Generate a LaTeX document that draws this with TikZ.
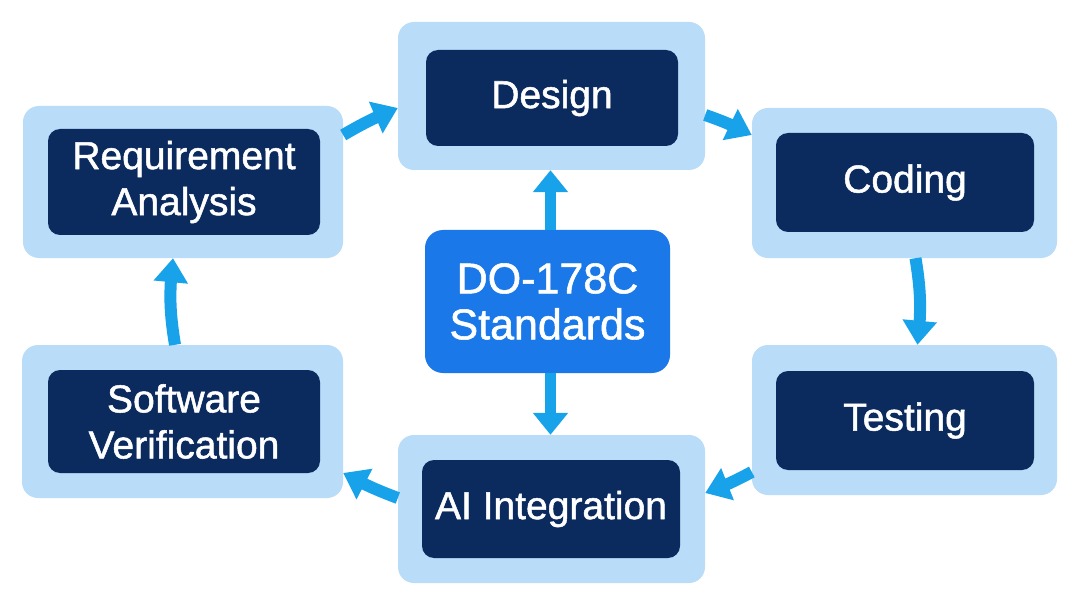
\documentclass[tikz,border=0pt]{standalone}
\usepackage{fontspec}
\setmainfont{Liberation Sans}[FakeBold=1.3]
\usetikzlibrary{arrows.meta,bending}
\definecolor{outerc}{HTML}{B9DCF9}
\definecolor{innerc}{HTML}{0B2A5E}
\definecolor{centerc}{HTML}{1A78E8}
\definecolor{arrc}{HTML}{17A2EA}
\begin{document}
\begin{tikzpicture}[x=1pt,y=-1pt,
  outerbox/.style={fill=outerc,rounded corners=16pt,inner sep=0pt,minimum width=#1},
  innerbox/.style={fill=innerc,rounded corners=12pt,inner sep=0pt,text=white,align=center,
    font=\fontsize{39}{46}\selectfont},
  centerbox/.style={fill=centerc,rounded corners=18pt,inner sep=0pt,text=white,align=center,
    font=\fontsize{43}{46}\selectfont},
  flow/.style={draw=arrc,line width=12pt,-{Triangle[length=24pt,width=33pt,flex]}},
  sflow/.style={draw=arrc,line width=11pt,-{Triangle[length=22pt,width=34pt]}}
]
\useasboundingbox[fill=white] (0,0) rectangle (1080,607);
% outer boxes
\node[outerbox=307pt,minimum height=148pt] (design) at (551.5,96) {};
\node[outerbox=305pt,minimum height=150pt] (coding) at (904.5,183) {};
\node[outerbox=320pt,minimum height=152pt] (ra) at (183,182) {};
\node[outerbox=321pt,minimum height=153pt] (sv) at (182.5,421.5) {};
\node[outerbox=305pt,minimum height=150pt] (testing) at (904.5,420) {};
\node[outerbox=307pt,minimum height=148pt] (ai) at (551.5,509) {};
% inner boxes
\node[innerbox,minimum width=252pt,minimum height=96pt] (designi) at (552,98) {Design};
\node[innerbox,minimum width=258pt,minimum height=99pt] (codingi) at (905,182.5) {Coding};
\node[innerbox,minimum width=272pt,minimum height=106pt] (rai) at (184,182) {Requirement\\Analysis};
\node[innerbox,minimum width=272pt,minimum height=103pt] (svi) at (184,421.5) {Software\\Verification};
\node[innerbox,minimum width=258pt,minimum height=99pt] (testingi) at (905,420.5) {Testing};
\node[innerbox,minimum width=258pt,minimum height=98pt] (aii) at (551,509) {AI Integration};
% center
\node[centerbox,minimum width=245pt,minimum height=143pt] (center) at (547.5,301.5) {DO-178C\\Standards};
% cycle arrows
\draw[flow] ([yshift=47pt]ra.east) to[bend left=4] ([yshift=-12pt]design.west);
\draw[flow] ([yshift=-19pt]design.east) to[bend left=4] ([yshift=48pt]coding.west);
\draw[flow] ([xshift=11pt]coding.south) to[bend left=8] ([xshift=13pt]testing.north);
\draw[flow] ([yshift=-52pt]testing.west) to[bend left=4] ([yshift=16pt]ai.east);
\draw[flow] ([yshift=11pt]ai.west) to[bend left=4] ([yshift=-51.5pt]sv.east);
\draw[flow] ([xshift=-7.5pt]sv.north) to[bend left=8] ([xshift=-10pt]ra.south);
% center arrows
\draw[sflow] ([xshift=3pt]center.north) -- ([xshift=3pt]center.north |- design.south);
\draw[sflow] ([xshift=3pt]center.south) -- ([xshift=3pt]center.south |- ai.north);
\end{tikzpicture}
\end{document}
